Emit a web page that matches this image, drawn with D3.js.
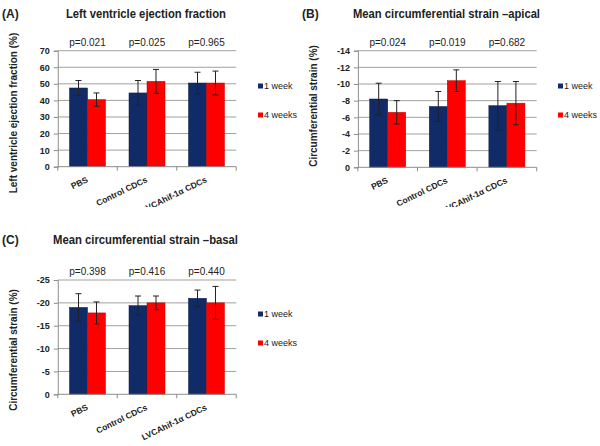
<!DOCTYPE html>
<html>
<head>
<meta charset="utf-8">
<script src="https://cdn.jsdelivr.net/npm/d3@7"></script>
<style>
  html, body { margin: 0; padding: 0; background: #fff; }
  svg { display: block; font-family: "Liberation Sans", Arial, sans-serif; }
</style>
</head>
<body>
<svg id="chart" width="600" height="446"></svg>
<script>
// ---------------- DATA ----------------
const categories = ["PBS", "Control CDCs", "LVCAhif-1α CDCs"];
const seriesNames = ["1 week", "4 weeks"];

// (A) Left ventricle ejection fraction (%)
const efWeek1 = [47.5, 44.5, 50.5];
const efWeek1Err = [4.5, 7.5, 6.5];
const efWeek4 = [40.5, 51.5, 50.5];
const efWeek4Err = [4.0, 7.2, 7.2];
const efPValues = ["p=0.021", "p=0.025", "p=0.965"];
const efTicks = [0, 10, 20, 30, 40, 50, 60, 70];

// (B) Mean circumferential strain – apical (%)
const apicalWeek1 = [-8.2, -7.3, -7.4];
const apicalWeek1Err = [1.9, 1.8, 2.9];
const apicalWeek4 = [-6.6, -10.4, -7.7];
const apicalWeek4Err = [1.4, 1.3, 2.6];
const apicalPValues = ["p=0.024", "p=0.019", "p=0.682"];
const apicalTicks = [0, -2, -4, -6, -8, -10, -12, -14];

// (C) Mean circumferential strain – basal (%)
const basalWeek1 = [-19.0, -19.4, -21.0];
const basalWeek1Err = [3.0, 2.1, 1.8];
const basalWeek4 = [-17.8, -20.0, -20.0];
const basalWeek4Err = [2.4, 1.5, 3.6];
const basalPValues = ["p=0.398", "p=0.416", "p=0.440"];
const basalTicks = [0, -5, -10, -15, -20, -25];

// ---------------- DRAW ----------------
const colors = ["#112a68", "#ff0000"];
const svg = d3.select("#chart");

function panel(cfg) {
  const g = svg.append("g");
  if (cfg.clipH) {
    const id = "clip" + cfg.letter;
    svg.append("clipPath").attr("id", id)
      .append("rect").attr("x", cfg.clipX).attr("y", 0).attr("width", 300).attr("height", cfg.clipH);
    g.attr("clip-path", `url(#${id})`);
  }
  const x0 = cfg.x0, x1 = cfg.x1, yT = cfg.yTop, yB = cfg.yBot;
  const x = d3.scaleBand().domain(categories).range([x0, x1]).padding(0);
  const bw = x.bandwidth();
  const xs = d3.scaleBand().domain(seriesNames).range([bw * 0.1975, bw * 0.8025]).padding(0);
  const top = cfg.ticks[cfg.ticks.length - 1];
  const y = d3.scaleLinear().domain([0, top]).range([yB, yT]);

  // gridlines
  g.append("g").selectAll("line").data(cfg.ticks.filter(t => t !== 0)).join("line")
    .attr("x1", x0).attr("x2", x1)
    .attr("y1", d => y(d)).attr("y2", d => y(d))
    .attr("stroke", "#a0a0a0").attr("stroke-width", 1);

  // y axis
  const yAxis = d3.axisLeft(y).tickValues(cfg.ticks).tickSize(4).tickPadding(4)
    .tickFormat(d => d === 0 ? "0" : String(d));
  const ya = g.append("g").attr("transform", `translate(${x0},0)`).call(yAxis);
  ya.select(".domain").attr("stroke", "#8c8c8c");
  ya.selectAll(".tick line").attr("stroke", "#8c8c8c");
  ya.selectAll(".tick text").attr("font-size", 9).attr("font-weight", "bold")
    .attr("fill", "#222").attr("font-family", "Liberation Sans, Arial, sans-serif");

  // bars
  const rows = [];
  categories.forEach((c, i) => {
    rows.push({ c, s: seriesNames[0], v: cfg.w1[i], e: cfg.w1e[i], k: 0 });
    rows.push({ c, s: seriesNames[1], v: cfg.w4[i], e: cfg.w4e[i], k: 1 });
  });
  g.append("g").selectAll("rect").data(rows).join("rect")
    .attr("x", d => x(d.c) + xs(d.s))
    .attr("width", xs.bandwidth())
    .attr("y", d => Math.min(y(0), y(d.v)))
    .attr("height", d => Math.abs(y(0) - y(d.v)))
    .attr("fill", d => colors[d.k])
    .attr("stroke", d => d.k === 0 ? "#0a1a45" : "#c00000")
    .attr("stroke-width", 0.5);

  // error bars
  const eg = g.append("g").attr("stroke", "#222").attr("stroke-width", 1);
  rows.forEach(d => {
    const cx = x(d.c) + xs(d.s) + xs.bandwidth() / 2;
    const ya1 = y(d.v - d.e), ya2 = y(d.v + d.e);
    eg.append("line").attr("x1", cx).attr("x2", cx).attr("y1", ya1).attr("y2", ya2);
    eg.append("line").attr("x1", cx - 3).attr("x2", cx + 3).attr("y1", ya1).attr("y2", ya1);
    eg.append("line").attr("x1", cx - 3).attr("x2", cx + 3).attr("y1", ya2).attr("y2", ya2);
  });

  // x axis line and category ticks
  g.append("line").attr("x1", x0).attr("x2", x1).attr("y1", yB).attr("y2", yB)
    .attr("stroke", "#8c8c8c");
  const bounds = categories.map(c => x(c)).concat([x1]);
  g.append("g").selectAll("line").data(bounds).join("line")
    .attr("x1", d => d).attr("x2", d => d).attr("y1", yB).attr("y2", yB + 4)
    .attr("stroke", "#8c8c8c");

  // x labels rotated
  g.append("g").selectAll("text").data(categories).join("text")
    .attr("transform", d => `translate(${x(d) + bw / 2 + 1},${yB + 15}) rotate(-26)`)
    .attr("text-anchor", "end")
    .attr("font-size", 8.5).attr("font-weight", "bold").attr("fill", "#222")
    .text(d => d);

  // p values
  g.append("g").selectAll("text").data(cfg.p).join("text")
    .attr("x", (d, i) => x(categories[i]) + bw / 2)
    .attr("y", yT - 5)
    .attr("text-anchor", "middle")
    .attr("font-size", 10).attr("fill", "#222")
    .text(d => d);

  // legend
  seriesNames.forEach((s, i) => {
    const ly = cfg.legY[i];
    g.append("rect").attr("x", cfg.legX).attr("y", ly - 2.5).attr("width", 5).attr("height", 5)
      .attr("fill", colors[i]);
    g.append("text").attr("x", cfg.legX + 6).attr("y", ly + 3)
      .attr("font-size", 9).attr("fill", "#222").text(s);
  });

  // y axis title
  g.append("text")
    .attr("transform", `translate(${cfg.yTitleX},${cfg.yTitleY}) rotate(-90)`)
    .attr("text-anchor", "middle")
    .attr("font-size", 10).attr("font-weight", "bold").attr("fill", "#222")
    .text(cfg.yTitle);

  // panel letter and title
  g.append("text").attr("x", cfg.letterX).attr("y", cfg.titleY)
    .attr("font-size", 12).attr("font-weight", "bold").attr("fill", "#222")
    .text("(" + cfg.letter + ")");
  g.append("text").attr("x", cfg.titleX).attr("y", cfg.titleY)
    .attr("text-anchor", "middle")
    .attr("font-size", 12).attr("font-weight", "bold").attr("fill", "#222")
    .attr("textLength", cfg.titleW).attr("lengthAdjust", "spacingAndGlyphs")
    .text(cfg.title);
}

panel({
  letter: "A", clipX: 0, clipH: 207,
  x0: 57.75, x1: 236.25, yTop: 50.7, yBot: 166.7,
  ticks: efTicks, w1: efWeek1, w1e: efWeek1Err, w4: efWeek4, w4e: efWeek4Err, p: efPValues,
  legX: 258, legY: [86, 115],
  yTitle: "Left ventricle ejection fraction (%)", yTitleX: 17, yTitleY: 113,
  letterX: 2, titleX: 146, titleY: 18, titleW: 160,
  title: "Left ventricle ejection fraction"
});

panel({
  letter: "B", clipX: 300, clipH: 207,
  x0: 357.9, x1: 536.7, yTop: 50.7, yBot: 167.3,
  ticks: apicalTicks, w1: apicalWeek1, w1e: apicalWeek1Err, w4: apicalWeek4, w4e: apicalWeek4Err, p: apicalPValues,
  legX: 558, legY: [86, 115],
  yTitle: "Circumferential strain (%)", yTitleX: 317, yTitleY: 106,
  letterX: 302, titleX: 446.5, titleY: 18, titleW: 187,
  title: "Mean circumferential strain \u2013apical"
});

panel({
  letter: "C",
  x0: 57.75, x1: 236.25, yTop: 280, yBot: 394.3,
  ticks: basalTicks, w1: basalWeek1, w1e: basalWeek1Err, w4: basalWeek4, w4e: basalWeek4Err, p: basalPValues,
  legX: 258, legY: [314, 343],
  yTitle: "Circumferential strain (%)", yTitleX: 17, yTitleY: 350,
  letterX: 2, titleX: 145.5, titleY: 244, titleW: 185,
  title: "Mean circumferential strain \u2013basal"
});
</script>
</body>
</html>
